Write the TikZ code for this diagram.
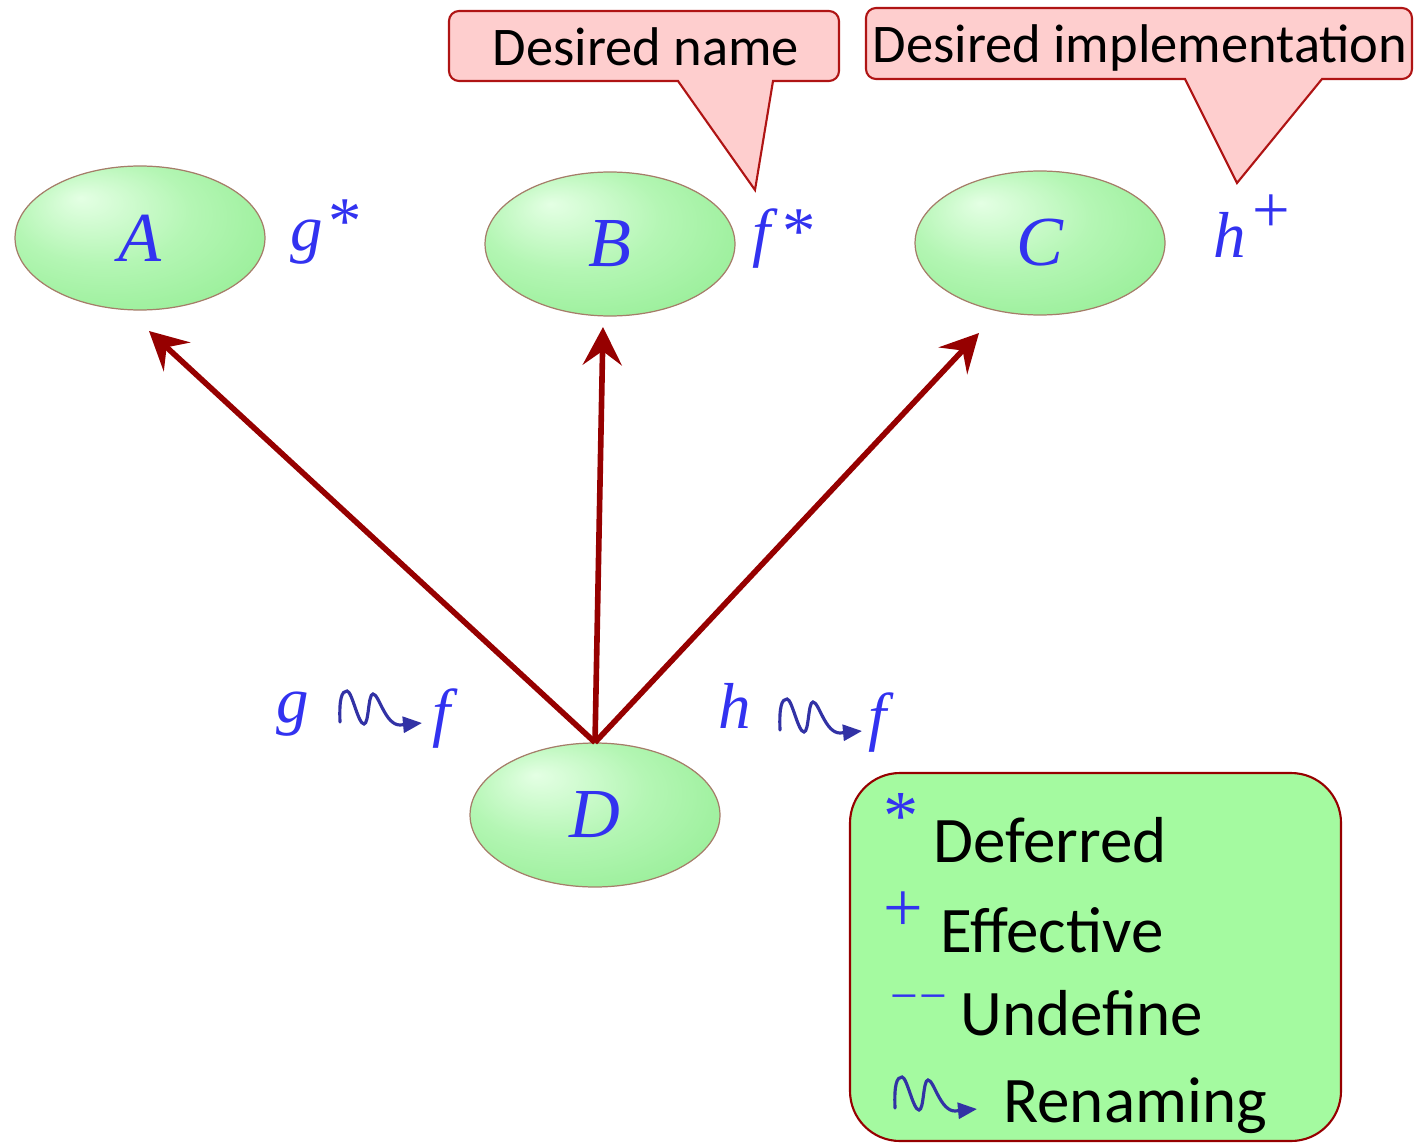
\documentclass[tikz,border=0pt]{standalone}
\usepackage{fontspec}
\setmainfont{Carlito}
\newfontfamily\letterfont{Liberation Serif}
\usetikzlibrary{shapes.geometric,arrows.meta}

\definecolor{arrowred}{RGB}{150,0,0}
\definecolor{ballgreen}{RGB}{150,238,150}
\definecolor{ballmid}{RGB}{180,246,180}
\definecolor{ballhi}{RGB}{228,255,228}
\definecolor{nodeedge}{RGB}{165,125,105}
\definecolor{labelblue}{RGB}{50,50,240}
\definecolor{squigblue}{RGB}{50,50,165}
\definecolor{pinkbase}{RGB}{254,206,206}
\definecolor{pinklight}{RGB}{255,232,232}
\definecolor{pinkedge}{RGB}{175,20,20}
\definecolor{legendgreen}{RGB}{164,250,160}
\definecolor{legendtop}{RGB}{222,255,222}

% soft highlight towards the upper left of each class bubble
\pgfdeclareradialshading{classball}{\pgfpoint{-12bp}{14bp}}{%
  color(0bp)=(ballhi); color(18bp)=(ballmid); color(36bp)=(ballgreen); color(50bp)=(ballgreen)}
\pgfdeclareverticalshading{legendshade}{100bp}{%
  color(0bp)=(legendgreen); color(88bp)=(legendgreen); color(100bp)=(legendtop)}
\pgfdeclareverticalshading{calloutshade}{100bp}{%
  color(0bp)=(pinkbase); color(90bp)=(pinkbase); color(100bp)=(pinklight)}

\newcommand\sym[1]{{\letterfont\itshape #1}}
\newcommand\supmark[3]{\raisebox{#1}{\fontsize{#2}{#2}\selectfont\letterfont #3}}

\tikzset{
  classnode/.style={ellipse, draw=nodeedge, line width=0.7pt, shading=classball,
    minimum width=5cm, minimum height=2.88cm, inner sep=0pt,
    text=labelblue, font=\fontsize{40}{42}\selectfont\letterfont\itshape},
  feature/.style={text=labelblue, inner sep=0pt, anchor=base west,
    font=\fontsize{37}{40}\selectfont},
  inherit/.style={draw=arrowred, line width=3.2pt,
    -{Stealth[length=0.76cm,width=0.78cm,inset=0.28cm]}},
  callout/.style={shade, shading=calloutshade, draw=pinkedge, line width=1.2pt},
  callouttext/.style={inner sep=0pt, anchor=base, font=\fontsize{31}{34}\selectfont},
  legendbox/.style={shade, shading=legendshade, draw=arrowred, line width=1.2pt,
    rounded corners=1cm},
  legendtext/.style={inner sep=0pt, anchor=base west, font=\fontsize{37}{40}\selectfont},
  legendmark/.style={inner sep=0pt, text=labelblue},
  squiggle/.style={draw=squigblue, line width=1.8pt, line cap=round,
    -{Triangle[length=0.38cm,width=0.32cm]}}
}

% renaming symbol: a wavy stroke ending in an arrow
\newcommand\renamesquiggle[1]{%
  \draw[squiggle, shift={(#1)}] (0,0) .. controls (-1,-24) and (2,-31) .. (7,-31)
    .. controls (12,-31) and (18,2) .. (24,2)
    .. controls (29,2) and (28,-28) .. (33,-28)
    .. controls (39,-28) and (45,3) .. (60,3) -- (82,1);}

\begin{document}
\begin{tikzpicture}[x=0.02cm, y=-0.02cm]
  \useasboundingbox (0,0) rectangle (1422,1142);

  % classes
  \node[classnode] (A) at (140,238) {A};
  \node[classnode] (B) at (610,244) {B};
  \node[classnode] (C) at (1040,243) {C};
  \node[classnode] (D) at (595,815) {D};

  % feature annotations
  \node[feature] (gA) at (290,250) {\sym{g}\hspace{3pt}\supmark{3.5pt}{38}{*}};
  \node[feature] (fB) at (752,255) {\sym{f}\hspace{7pt}\supmark{1pt}{38}{*}};
  \node[feature] (hC) at (1213,257) {\sym{h}\hspace{4pt}\supmark{14pt}{38}{+}};

  % inheritance links
  \coordinate (tipA) at (149,331);
  \coordinate (tipB) at (603,327);
  \coordinate (tipC) at (979,333);
  \draw[inherit] (D.north) -- (tipA);
  \draw[inherit] (D.north) -- (tipB);
  \draw[inherit] (D.north) -- (tipC);

  % renaming clauses
  \node[feature] (g1) at (276,722) {\sym{g}};
  \renamesquiggle{340,722}
  \node[feature] (f1) at (432,734) {\sym{f}};
  \node[feature] (h1) at (718,728) {\sym{h}};
  \renamesquiggle{780,730}
  \node[feature] (f2) at (868,738) {\sym{f}};

  % callouts
  \path[callout] (678,81) -- (755,190) -- (773,81)
    [rounded corners=0.2cm] -- (839,81) -- (839,11) -- (449,11) -- (449,81)
    [sharp corners] -- cycle;
  \node[callouttext] (nameNote) at (646,66) {Desired name};
  \path[callout] (1185,79) -- (1237,183) -- (1322,79)
    [rounded corners=0.2cm] -- (1412,79) -- (1412,8) -- (866,8) -- (866,79)
    [sharp corners] -- cycle;
  \node[callouttext] (implNote) at (1140,63) {Desired implementation};

  % legend
  \path[legendbox] (850,773) rectangle (1341,1141);
  \node[legendmark, font=\fontsize{40}{42}\selectfont\letterfont] (mDef) at (901,816) {*};
  \node[legendtext] (tDef) at (933,862) {Deferred};
  \node[legendmark, font=\fontsize{40}{42}\selectfont\letterfont] (mEff) at (903,912) {+};
  \node[legendmark, font=\fontsize{28}{30}\selectfont\letterfont] (mUnd) at (919,1004) {−\kern1pt−};
  \node[legendtext] (tEff) at (940,952) {Effective};
  \node[legendtext] (tUnd) at (960,1035) {Undefine};
  \renamesquiggle{895,1108}
  \node[legendtext] (tRen) at (1003,1122) {Renaming};
\end{tikzpicture}
\end{document}
